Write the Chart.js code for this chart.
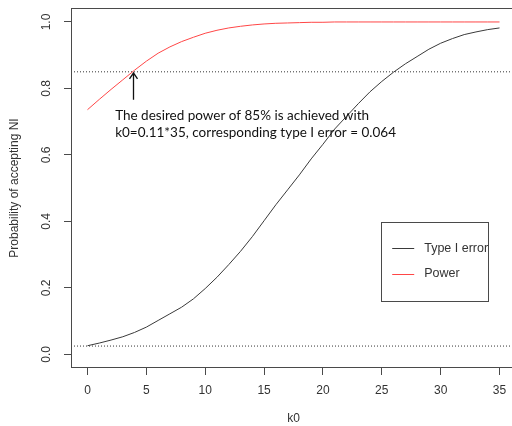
<!DOCTYPE html>
<html>
<head>
<meta charset="utf-8">
<script src="https://cdn.jsdelivr.net/npm/chart.js@4.4.1/dist/chart.umd.min.js"></script>
<style>
html,body{margin:0;padding:0;background:#fff;overflow:hidden;width:512px;height:426px;}
#wrap{width:520px;height:426px;}
</style>
</head>
<body>
<div id="wrap"><canvas id="c" width="520" height="426"></canvas></div>
<script>
// ---- data ----
const k0Values = [0,1,2,3,4,5,6,7,8,9,10,11,12,13,14,15,16,17,18,19,20,21,22,23,24,25,26,27,28,29,30,31,32,33,34,35];
const typeIError = [0.026,0.034,0.043,0.053,0.066,0.082,0.102,0.122,0.142,0.167,0.198,0.232,0.270,0.310,0.354,0.402,0.450,0.495,0.540,0.588,0.632,0.678,0.716,0.754,0.790,0.821,0.849,0.874,0.896,0.918,0.936,0.950,0.962,0.970,0.977,0.982];
const power = [0.736,0.767,0.797,0.826,0.855,0.882,0.906,0.925,0.941,0.954,0.966,0.975,0.982,0.987,0.991,0.994,0.996,0.997,0.998,0.999,0.999,1.0,1.0,1.0,1.0,1.0,1.0,1.0,1.0,1.0,1.0,1.0,1.0,1.0,1.0,1.0];
const xTickValues = [0,5,10,15,20,25,30,35];
const yTickValues = [0.0,0.2,0.4,0.6,0.8,1.0];
const referenceLines = [0.85, 0.025];
const desiredPower = 0.85;
const chosenK0 = 0.11*35;
const annotationLines = ["The desired power of 85% is achieved with", "k0=0.11*35, corresponding type I error = 0.064"];
const legendLabels = ["Type I error", "Power"];

// ---- styles ----
const X_MIN = -1.4, X_MAX = 36.4, Y_MIN = -0.041, Y_MAX = 1.042;
const AXIS = '#4a4a4a';
const TEXT = '#333333';
const BLACK_LINE = '#3a3a3a';
const RED_LINE = 'rgb(255,70,70)';
const AXIS_FONT = '"Liberation Sans", Arial, sans-serif';

const toXY = (xs, ys) => xs.map((x, i) => ({x: x, y: ys[i]}));

const extras = {
  id: 'extras',
  afterDraw(chart) {
    const {ctx, chartArea: a, scales: {x, y}} = chart;
    ctx.save();
    // plot box
    ctx.strokeStyle = AXIS; ctx.lineWidth = 1;
    ctx.strokeRect(Math.round(a.left) + 0.5, Math.round(a.top) + 0.5, Math.round(a.right - a.left), Math.round(a.bottom - a.top) - 1);
    // y tick labels (rotated, R style)
    ctx.fillStyle = TEXT;
    ctx.font = '12px ' + AXIS_FONT;
    ctx.textAlign = 'center'; ctx.textBaseline = 'middle';
    yTickValues.forEach(v => {
      ctx.save();
      ctx.translate(a.left - 24, y.getPixelForValue(v));
      ctx.rotate(-Math.PI / 2);
      ctx.fillText(v.toFixed(1), 0, 0);
      ctx.restore();
    });
    // y title
    ctx.save();
    ctx.translate(a.left - 56, (a.top + a.bottom) / 2);
    ctx.rotate(-Math.PI / 2);
    ctx.fillText('Probability of accepting NI', 0, 0);
    ctx.restore();

    // arrow
    const ax = Math.round(x.getPixelForValue(chosenK0)) + 0.5;
    const tipY = y.getPixelForValue(desiredPower) + 1;
    const baseY = tipY + 27;
    ctx.strokeStyle = '#111'; ctx.lineWidth = 1.3;
    ctx.beginPath();
    ctx.moveTo(ax, baseY); ctx.lineTo(ax, tipY);
    ctx.moveTo(ax - 4, tipY + 6); ctx.lineTo(ax, tipY); ctx.lineTo(ax + 4, tipY + 6);
    ctx.stroke();

    // annotation text
    ctx.fillStyle = '#111';
    ctx.font = '13.5px Lato, "Open Sans", sans-serif';
    ctx.textAlign = 'left'; ctx.textBaseline = 'middle';
    const tx = x.getPixelForValue(2.35);
    ctx.fillText(annotationLines[0], tx, baseY + 16);
    ctx.fillText(annotationLines[1], tx, baseY + 33);

    // legend
    const lx0 = x.getPixelForValue(24.95), lx1 = x.getPixelForValue(34.04);
    const ly0 = y.getPixelForValue(0.398), ly1 = y.getPixelForValue(0.160);
    ctx.strokeStyle = AXIS; ctx.lineWidth = 1;
    ctx.strokeRect(Math.round(lx0) + 0.5, Math.round(ly0) + 0.5, Math.round(lx1 - lx0), Math.round(ly1 - ly0));
    const rows = [{c: BLACK_LINE, t: legendLabels[0], yy: ly0 + 26}, {c: RED_LINE, t: legendLabels[1], yy: ly0 + 51.5}];
    ctx.font = '12.5px ' + AXIS_FONT;
    rows.forEach(r => {
      ctx.strokeStyle = r.c;
      ctx.beginPath();
      ctx.moveTo(lx0 + 11, Math.round(r.yy) + 0.5); ctx.lineTo(lx0 + 33, Math.round(r.yy) + 0.5);
      ctx.stroke();
      ctx.fillStyle = TEXT;
      ctx.fillText(r.t, lx0 + 43, r.yy);
    });
    ctx.restore();
  }
};

new Chart(document.getElementById('c'), {
  type: 'line',
  data: {
    datasets: [
      {label: legendLabels[0], data: toXY(k0Values, typeIError), borderColor: BLACK_LINE, borderWidth: 1, pointRadius: 0, tension: 0},
      {label: legendLabels[1], data: toXY(k0Values, power), borderColor: RED_LINE, borderWidth: 1, pointRadius: 0, tension: 0},
      ...referenceLines.map(v => ({label: 'ref', data: [{x: X_MIN, y: v}, {x: X_MAX, y: v}], borderColor: '#333', borderWidth: 1, borderDash: [1, 2], pointRadius: 0}))
    ]
  },
  options: {
    responsive: false,
    animation: false,
    events: [],
    layout: {padding: {left: 0, top: 8, right: 4, bottom: 0}},
    plugins: {legend: {display: false}, tooltip: {enabled: false}},
    scales: {
      x: {
        type: 'linear', min: X_MIN, max: X_MAX,
        afterBuildTicks: s => { s.ticks = xTickValues.map(v => ({value: v})); },
        afterFit: s => { s.height = 58; },
        border: {display: false},
        grid: {drawOnChartArea: false, drawTicks: true, tickLength: 7, color: AXIS},
        ticks: {color: TEXT, font: {family: AXIS_FONT, size: 12}, padding: 8, maxRotation: 0, autoSkip: false},
        title: {display: true, text: 'k0', color: TEXT, font: {family: AXIS_FONT, size: 12}, padding: {top: 0, bottom: 0}}
      },
      y: {
        type: 'linear', min: Y_MIN, max: Y_MAX,
        afterBuildTicks: s => { s.ticks = yTickValues.map(v => ({value: v})); },
        afterFit: s => { s.width = 71; },
        border: {display: false},
        grid: {drawOnChartArea: false, drawTicks: true, tickLength: 7, color: AXIS},
        ticks: {display: false}
      }
    }
  },
  plugins: [extras]
});
</script>
</body>
</html>
